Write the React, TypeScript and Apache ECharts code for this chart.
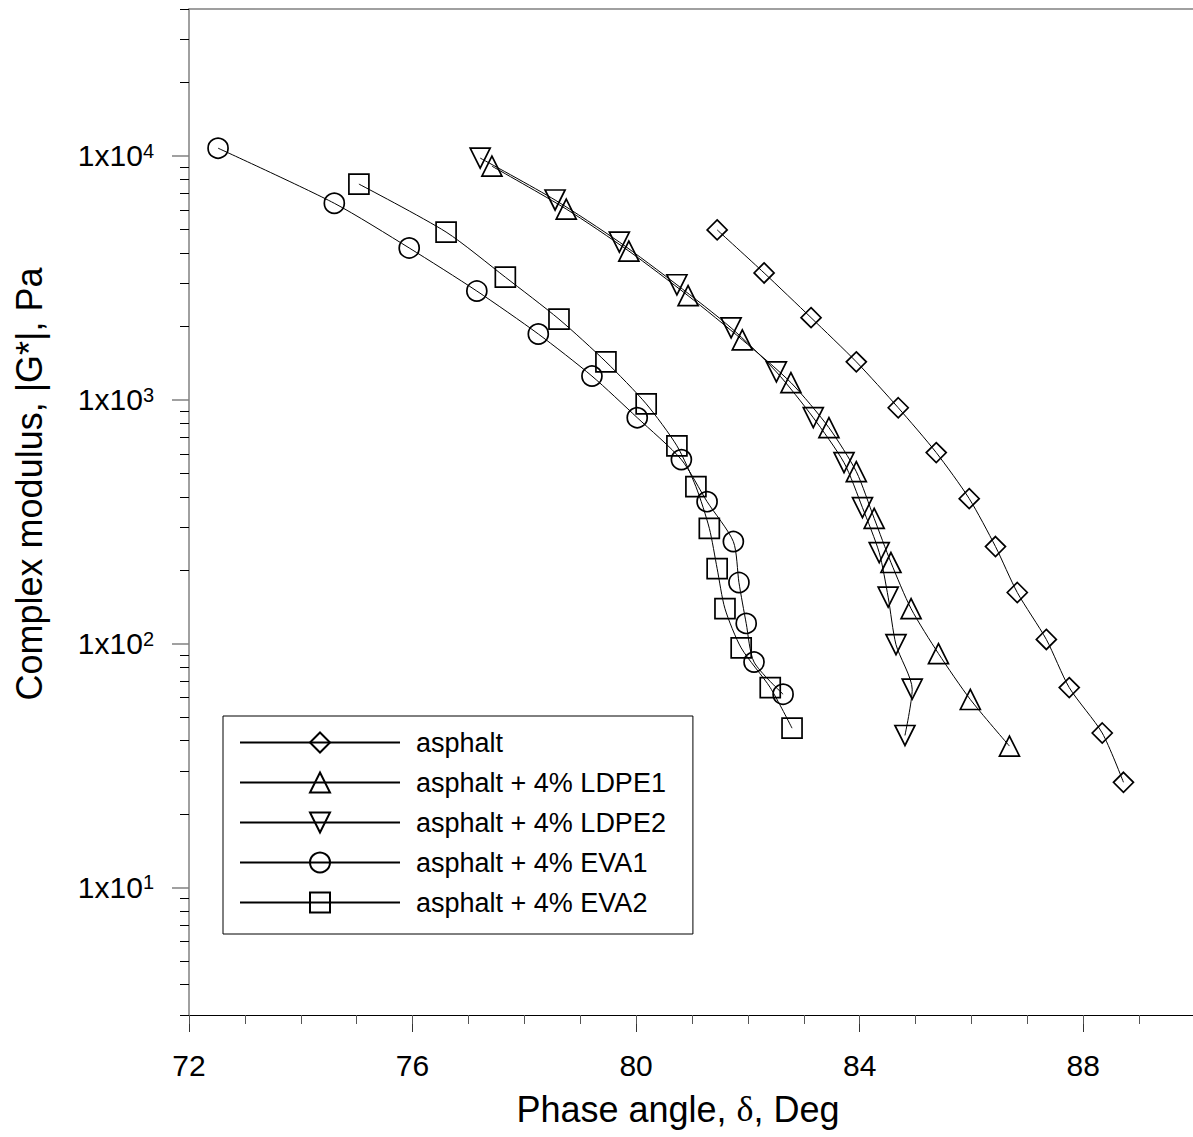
import React, { useEffect, useRef } from 'react';
import * as echarts from 'echarts';

const FONT = '"Liberation Sans", Arial, Helvetica, sans-serif';

// Phase angle (deg) and complex modulus |G*| (Pa) for each binder
const asphaltPhase = [81.45, 82.29, 83.13, 83.94, 84.69, 85.37, 85.96, 86.43, 86.82, 87.34, 87.75, 88.34, 88.72];
const asphaltModulus = [4970, 3310, 2170, 1430, 927, 607, 393, 250, 162, 104, 66, 43, 27];

const ldpe1Phase = [77.42, 78.75, 79.87, 80.93, 81.9, 82.77, 83.45, 83.94, 84.26, 84.56, 84.92, 85.41, 85.98, 86.68];
const ldpe1Modulus = [9070, 6050, 4070, 2670, 1760, 1175, 768, 507, 326, 215, 139, 91, 59, 38];

const ldpe2Phase = [77.21, 78.55, 79.7, 80.73, 81.7, 82.51, 83.17, 83.72, 84.05, 84.35, 84.51, 84.65, 84.94, 84.81];
const ldpe2Modulus = [9790, 6590, 4430, 2960, 1970, 1300, 844, 552, 361, 236, 155, 99, 65, 42];

const eva1Phase = [72.52, 74.6, 75.94, 77.15, 78.25, 79.21, 80.02, 80.81, 81.27, 81.74, 81.84, 81.97, 82.11, 82.63];
const eva1Modulus = [10750, 6390, 4190, 2790, 1860, 1250, 844, 568, 382, 262, 178, 121, 84, 62];

const eva2Phase = [75.04, 76.6, 77.66, 78.62, 79.46, 80.18, 80.73, 81.07, 81.31, 81.45, 81.59, 81.88, 82.4, 82.79];
const eva2Modulus = [7660, 4870, 3180, 2140, 1430, 962, 647, 440, 297, 203, 139, 96, 66, 45];

const seriesNames = [
  'asphalt',
  'asphalt + 4% LDPE1',
  'asphalt + 4% LDPE2',
  'asphalt + 4% EVA1',
  'asphalt + 4% EVA2',
];

// Axis ranges and tick positions
const X_MIN = 72;
const X_MAX = 90;
const Y_MIN = 3;
const Y_MAX = 40000;
const yMajorTicks = [10, 100, 1000, 10000];
const yMinorTicks = [
  3, 4, 5, 6, 7, 8, 9,
  20, 30, 40, 50, 60, 70, 80, 90,
  200, 300, 400, 500, 600, 700, 800, 900,
  2000, 3000, 4000, 5000, 6000, 7000, 8000, 9000,
  20000, 30000, 40000,
];

function lineSeries(name: string, xs: number[], ys: number[], symbol: string, rotate = 0) {
  return {
    type: 'line',
    name,
    xAxisIndex: 0,
    yAxisIndex: 0,
    data: xs.map((x, i) => [x, ys[i]]),
    symbol,
    symbolRotate: rotate,
    symbolSize: 20,
    showSymbol: true,
    smooth: 0.25,
    lineStyle: { color: '#000', width: 1 },
    itemStyle: { color: 'rgba(0,0,0,0)', borderColor: '#000', borderWidth: 1.7 },
    emphasis: { disabled: true },
  };
}

export default function App() {
  const ref = useRef<HTMLDivElement>(null);

  useEffect(() => {
    const chart = echarts.init(ref.current!, null, { renderer: 'svg' });
    chart.setOption({
      animation: false,
      backgroundColor: '#fff',
      grid: { left: 189, top: 9, width: 1006, height: 1006, containLabel: false, outerBoundsMode: 'none' },
      xAxis: [
        {
          type: 'value',
          position: 'bottom',
          min: X_MIN,
          max: X_MAX,
          interval: 4,
          axisLine: { show: true, lineStyle: { color: '#000', width: 1 } },
          axisTick: { show: true, length: 17, lineStyle: { color: '#333', width: 1 } },
          axisLabel: {
            margin: 35,
            fontSize: 30,
            fontFamily: FONT,
            color: '#000',
            formatter: (v: number) => (v < X_MAX ? String(v) : ''),
          },
          splitLine: { show: false },
        },
        {
          type: 'value',
          position: 'bottom',
          min: X_MIN,
          max: X_MAX,
          interval: 1,
          axisLine: { show: false },
          axisTick: { show: true, length: 9, lineStyle: { color: '#555', width: 1 } },
          axisLabel: { show: false },
          splitLine: { show: false },
        },
        {
          type: 'value',
          position: 'top',
          min: X_MIN,
          max: X_MAX,
          axisLine: { show: true, lineStyle: { color: '#808080', width: 1.5 } },
          axisTick: { show: false },
          axisLabel: { show: false },
          splitLine: { show: false },
        },
      ],
      yAxis: [
        {
          type: 'log',
          logBase: 10,
          min: Y_MIN,
          max: Y_MAX,
          position: 'left',
          axisLine: { show: true, lineStyle: { color: '#808080', width: 1.5 } },
          axisTick: { show: true, length: 17, customValues: yMajorTicks, lineStyle: { color: '#808080', width: 1.5 } },
          axisLabel: {
            customValues: yMajorTicks,
            margin: 35,
            formatter: (v: number) => `{m|1x10}{s|${Math.round(Math.log10(v))}}`,
            rich: {
              m: { fontSize: 30, fontFamily: FONT, color: '#000' },
              s: { fontSize: 20, fontFamily: FONT, color: '#000', verticalAlign: 'top' },
            },
          },
          splitLine: { show: false },
        },
        {
          type: 'log',
          logBase: 10,
          min: Y_MIN,
          max: Y_MAX,
          position: 'left',
          axisLine: { show: false },
          axisTick: { show: true, length: 9, customValues: yMinorTicks, lineStyle: { color: '#000', width: 1 } },
          axisLabel: { show: false },
          splitLine: { show: false },
        },
      ],
      legend: {
        orient: 'vertical',
        left: 223,
        top: 716,
        data: seriesNames,
        itemWidth: 160,
        itemHeight: 25,
        itemGap: 13,
        padding: [13, 27, 18, 16],
        borderColor: '#000',
        borderWidth: 1,
        backgroundColor: '#fff',
        selectedMode: false,
        textStyle: { fontSize: 27, fontFamily: FONT, color: '#000', padding: [0, 0, 0, 11] },
      },
      graphic: [
        {
          type: 'text',
          x: 678,
          y: 1109,
          style: {
            text: 'Phase angle, {d|δ}, Deg',
            fontSize: 36,
            fontFamily: FONT,
            fill: '#000',
            textAlign: 'center',
            textVerticalAlign: 'middle',
            rich: { d: { fontSize: 36, fontFamily: '"Liberation Serif", "DejaVu Serif", serif', fill: '#000' } },
          },
        },
        {
          type: 'text',
          x: 29,
          y: 484,
          rotation: Math.PI / 2,
          style: {
            text: 'Complex modulus, |G*|, Pa',
            fontSize: 36,
            fontFamily: FONT,
            fill: '#000',
            textAlign: 'center',
            textVerticalAlign: 'middle',
          },
        },
      ],
      series: [
        lineSeries(seriesNames[0], asphaltPhase, asphaltModulus, 'diamond'),
        lineSeries(seriesNames[1], ldpe1Phase, ldpe1Modulus, 'triangle'),
        lineSeries(seriesNames[2], ldpe2Phase, ldpe2Modulus, 'triangle', 180),
        lineSeries(seriesNames[3], eva1Phase, eva1Modulus, 'circle'),
        lineSeries(seriesNames[4], eva2Phase, eva2Modulus, 'rect'),
      ],
    });
    return () => chart.dispose();
  }, []);

  return (
    <div
      ref={ref}
      style={{ position: 'absolute', left: 0, top: 0, width: 1193, height: 1137, background: '#fff' }}
    />
  );
}
